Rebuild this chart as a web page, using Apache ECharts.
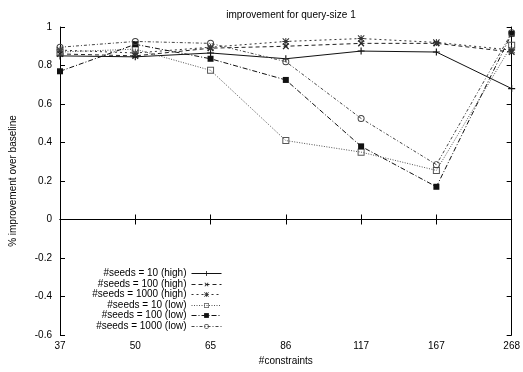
<!DOCTYPE html>
<html>
<head>
<meta charset="utf-8">
<script src="https://cdn.jsdelivr.net/npm/echarts@6/dist/echarts.min.js"></script>
<style>
  html, body { margin: 0; padding: 0; background: #fff; }
  #chart { width: 523px; height: 372px; }
</style>
</head>
<body>
<div id="chart"></div>
<script>
// Number of constraints (x categories)
const constraints = ['37', '50', '65', '86', '117', '167', '268'];

// Improvement over baseline per seed count
const seeds10High   = [0.85, 0.845, 0.865, 0.835, 0.875, 0.87, 0.68];
const seeds100High  = [0.86, 0.85, 0.89, 0.90, 0.915, 0.915, 0.87];
const seeds1000High = [0.88, 0.865, 0.895, 0.925, 0.94, 0.92, 0.88];
const seeds10Low    = [0.87, 0.885, 0.775, 0.41, 0.35, 0.255, 0.905];
const seeds100Low   = [0.77, 0.91, 0.835, 0.725, 0.38, 0.17, 0.965];
const seeds1000Low  = [0.895, 0.925, 0.915, 0.82, 0.525, 0.285, 0.97];

const seriesNames = [
  '#seeds = 10 (high)',
  '#seeds = 100 (high)',
  '#seeds = 1000 (high)',
  '#seeds = 10 (low)',
  '#seeds = 100 (low)',
  '#seeds = 1000 (low)'
];

const FONT = '"Liberation Sans", Arial, Helvetica, sans-serif';

// point glyphs (filled outlines so stroke weight stays thin)
const PLUS = 'path://M4.2,0H5.8V4.2H10V5.8H5.8V10H4.2V5.8H0V4.2H4.2Z';
const STAR = 'path://M4.3,0H5.7V4.3H10V5.7H5.7V10H4.3V5.7H0V4.3H4.3Z' +
             'M1,0L10,9L9,10L0,1Z M9,0L10,1L1,10L0,9Z';
const BOX  = 'path://M0,0H10V10H0Z M1.4,1.4V8.6H8.6V1.4Z';
const RING = 'path://M0,5A5,5 0 1,1 10,5A5,5 0 1,1 0,5Z M1.4,5A3.6,3.6 0 1,0 8.6,5A3.6,3.6 0 1,0 1.4,5Z';

const styles = [
  { data: seeds10High,   symbol: PLUS,   size: 7, rotate: 0,  color: '#111', type: 'solid' },
  { data: seeds100High,  symbol: PLUS,   size: 8, rotate: 45, color: '#222', type: [4, 3] },
  { data: seeds1000High, symbol: STAR,   size: 7, rotate: 0,  color: '#333', type: [2, 3] },
  { data: seeds10Low,    symbol: BOX,    size: 7, rotate: 0,  color: '#555', type: [1, 1.5] },
  { data: seeds100Low,   symbol: 'rect', size: 6, rotate: 0,  color: '#111', type: [5, 2, 1, 2] },
  { data: seeds1000Low,  symbol: RING,   size: 7, rotate: 0,  color: '#444', type: [3, 2, 1, 2] }
];

const series = styles.map((s, i) => ({
  name: seriesNames[i],
  type: 'line',
  data: s.data,
  symbol: s.symbol,
  symbolSize: s.size,
  symbolRotate: s.rotate,
  showAllSymbol: true,
  animation: false,
  lineStyle: { color: s.color, width: 1, type: s.type },
  itemStyle: { color: s.color, borderWidth: 0 },
  emphasis: { disabled: true }
}));

// legend: text right-aligned, sample to its right, one row per series
const legendRows = [273.5, 284.5, 294.5, 305.5, 315.5, 326.5];
const legends = seriesNames.map((n, i) => ({
  data: [n],
  orient: 'vertical',
  align: 'right',
  right: 301,
  top: legendRows[i] - 5,
  padding: 0,
  itemGap: 0,
  itemWidth: 30,
  itemHeight: 6,
  selectedMode: false,
  lineStyle: { width: 1 },
  textStyle: { fontFamily: FONT, fontSize: 10, color: '#000', lineHeight: 10 }
}));

const axisLine = { show: true, lineStyle: { color: '#000', width: 1 } };
const tick = { show: true, inside: true, length: 5, lineStyle: { color: '#000', width: 1 } };

const option = {
  animation: false,
  backgroundColor: '#fff',
  title: {
    text: 'improvement for query-size 1',
    left: 286,
    top: 5,
    textAlign: 'center',
    textStyle: { fontFamily: FONT, fontSize: 10, fontWeight: 'normal', color: '#000' }
  },
  legend: legends,
  grid: { left: 56, right: 7, top: 27, bottom: 37, containLabel: false },
  xAxis: [
    {
      type: 'category',
      data: constraints,
      boundaryGap: false,
      position: 'bottom',
      name: '#constraints',
      nameLocation: 'middle',
      nameGap: 21,
      nameTextStyle: { fontFamily: FONT, fontSize: 10, color: '#000' },
      axisLine: axisLine,
      axisTick: Object.assign({ alignWithLabel: true }, tick),
      axisLabel: { fontFamily: FONT, fontSize: 10, color: '#000', margin: 6 },
      splitLine: { show: false }
    },
    {
      type: 'category',
      data: constraints,
      boundaryGap: false,
      position: 'top',
      axisLine: axisLine,
      axisTick: tick,
      axisLabel: { show: false },
      splitLine: { show: false }
    }
  ],
  yAxis: [
    {
      type: 'value',
      min: -0.6,
      max: 1,
      interval: 0.2,
      position: 'left',
      name: '% improvement over baseline',
      nameLocation: 'middle',
      nameRotate: 90,
      nameGap: 42,
      nameTextStyle: { fontFamily: FONT, fontSize: 10, color: '#000' },
      axisLine: axisLine,
      axisTick: tick,
      axisLabel: {
        fontFamily: FONT, fontSize: 10, color: '#000', margin: 8,
        formatter: v => String(Math.round(v * 10) / 10)
      },
      splitLine: { show: false }
    },
    {
      type: 'value',
      min: -0.6,
      max: 1,
      interval: 0.2,
      position: 'right',
      axisLine: axisLine,
      axisTick: tick,
      axisLabel: { show: false },
      splitLine: { show: false }
    }
  ],
  series: series
};

const chart = echarts.init(document.getElementById('chart'), null, { renderer: 'canvas' });
chart.setOption(option);
</script>
</body>
</html>
